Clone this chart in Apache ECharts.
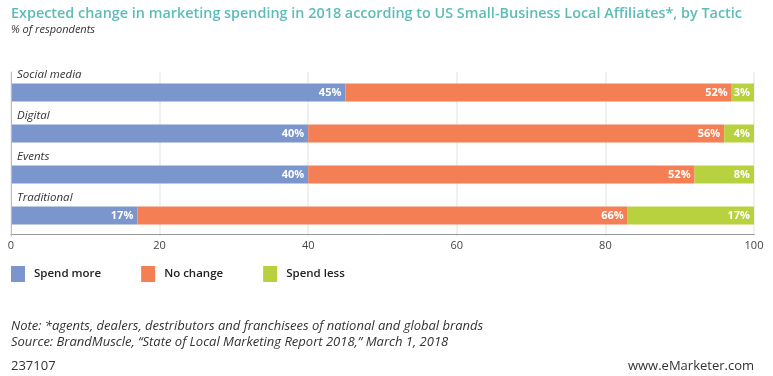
<!DOCTYPE html>
<html>
<head>
<meta charset="utf-8">
<script src="https://cdn.jsdelivr.net/npm/echarts@6/dist/echarts.min.js"></script>
<style>
  html, body { margin: 0; padding: 0; background: #fff; }
  #chart { width: 773px; height: 376px; }
</style>
</head>
<body>
<div id="chart"></div>
<script>
var tactics = ['Social media', 'Digital', 'Events', 'Traditional'];
var spendMore = [45, 40, 40, 17];
var noChange = [52, 56, 52, 66];
var spendLess = [3, 4, 8, 17];
var xTicks = [0, 20, 40, 60, 80, 100];

var chart = echarts.init(document.getElementById('chart'));

// white % labels at the right end of each segment
function barLabel() {
    return {
        show: true,
        position: 'insideRight',
        color: '#fff',
        fontFamily: 'Open Sans',
        fontWeight: 'bold',
        fontSize: 11,
        distance: 4,
        formatter: '{c}%'
    };
}

var option = {
    animation: false,
    color: ['#7b96cd', '#f47f54', '#b8d23f'],
    textStyle: { fontFamily: 'Open Sans' },
    title: {
        text: 'Expected change in marketing spending in 2018 according to US Small-Business Local Affiliates*, by Tactic',
        subtext: '% of respondents',
        left: 6,
        top: 2,
        itemGap: 3,
        textStyle: { color: '#5cbcb8', fontSize: 14.4, fontWeight: 600, fontFamily: 'Open Sans' },
        subtextStyle: { color: '#333', fontSize: 11, fontStyle: 'italic', fontFamily: 'Open Sans' }
    },
    legend: {
        left: 6,
        top: 261,
        itemWidth: 14,
        itemHeight: 16,
        itemGap: 40,
        icon: 'rect',
        textStyle: { color: '#222', fontSize: 11.5, fontWeight: 600, fontFamily: 'Open Sans', padding: [0, 0, 0, 4] },
        data: ['Spend more', 'No change', 'Spend less']
    },
    grid: {
        left: 11,
        right: 19,
        top: 72,
        bottom: 140
    },
    xAxis: {
        type: 'value',
        min: 0,
        max: 100,
        interval: 20,
        offset: -2,
        axisLine: { show: true, lineStyle: { color: '#999', width: 1 } },
        axisTick: { show: false },
        axisLabel: {
            color: '#444', fontSize: 11, margin: 6,
            formatter: function (v) { return xTicks.indexOf(v) >= 0 ? String(v) : ''; }
        },
        splitLine: { show: true, lineStyle: { color: '#ebebeb', width: 1.5 } }
    },
    yAxis: {
        type: 'category',
        inverse: true,
        data: tactics,
        axisLine: { show: true, lineStyle: { color: '#bbb' } },
        axisTick: { show: false },
        axisLabel: {
            inside: true,
            margin: 6,
            align: 'left',
            verticalAlign: 'bottom',
            padding: [0, 0, 12, 0],
            color: '#333',
            fontSize: 11.5,
            fontStyle: 'italic',
            fontFamily: 'Open Sans'
        },
        z: 5
    },
    series: [
        { name: 'Spend more', type: 'bar', stack: 'total', barWidth: 18, data: spendMore, label: barLabel() },
        { name: 'No change', type: 'bar', stack: 'total', barWidth: 18, data: noChange, label: barLabel() },
        { name: 'Spend less', type: 'bar', stack: 'total', barWidth: 18, data: spendLess, label: barLabel() }
    ],
    graphic: [
        {
            type: 'text', left: 11, top: 320,
            style: { text: 'Note: *agents, dealers, destributors and franchisees of national and global brands', fill: '#333', fontSize: 13, fontStyle: 'italic', fontFamily: 'Open Sans' }
        },
        {
            type: 'text', left: 11, top: 336,
            style: { text: 'Source: BrandMuscle, \u201cState of Local Marketing Report 2018,\u201d March 1, 2018', fill: '#333', fontSize: 13, fontStyle: 'italic', fontFamily: 'Open Sans' }
        },
        {
            type: 'text', left: 11, top: 360,
            style: { text: '237107', fill: '#333', fontSize: 13, fontFamily: 'Open Sans' }
        },
        {
            type: 'text', right: 19, top: 360,
            style: { text: 'www.eMarketer.com', fill: '#333', fontSize: 13, fontFamily: 'Open Sans' }
        }
    ]
};

chart.setOption(option);
</script>
</body>
</html>
